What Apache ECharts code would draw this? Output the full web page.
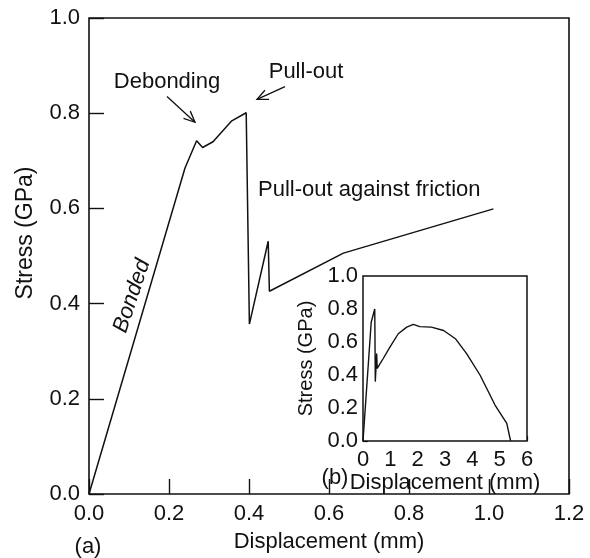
<!DOCTYPE html>
<html>
<head>
<meta charset="utf-8">
<script src="https://cdn.jsdelivr.net/npm/echarts@6/dist/echarts.min.js"></script>
<style>
html,body{margin:0;padding:0;background:#fff;}
#c{width:590px;height:558px;}
</style>
</head>
<body>
<div id="c"></div>
<script>
// ---- Data ----
// Main plot (a): displacement (mm) vs stress (GPa)
var mainX = [0.0, 0.24, 0.269, 0.284, 0.31, 0.357, 0.393, 0.401, 0.448, 0.451, 0.636, 1.011];
var mainY = [0.0, 0.685, 0.742, 0.728, 0.74, 0.784, 0.801, 0.357, 0.531, 0.426, 0.506, 0.599];
// Inset (b): full displacement range
var insetX = [0.0, 0.3, 0.43, 0.45, 0.5, 0.52, 0.74, 0.99, 1.29, 1.6, 1.84, 2.08, 2.5, 2.95, 3.38, 3.79, 4.28, 4.83, 5.26, 5.4];
var insetY = [0.0, 0.72, 0.80, 0.36, 0.53, 0.44, 0.50, 0.57, 0.65, 0.69, 0.707, 0.693, 0.69, 0.67, 0.62, 0.53, 0.40, 0.218, 0.107, 0.0];
// Tick values
var mainXTicks = [0.0, 0.2, 0.4, 0.6, 0.8, 1.0, 1.2];
var mainYTicks = [0.0, 0.2, 0.4, 0.6, 0.8, 1.0];
var insetXTicks = [0, 1, 2, 3, 4, 5, 6];
var insetYTicks = [0.0, 0.2, 0.4, 0.6, 0.8, 1.0];
// Annotation arrows (tail -> head) in main-plot data coordinates
var arrowDebonding = [[0.195, 0.835], [0.265, 0.781]];
var arrowPullout = [[0.49, 0.856], [0.42, 0.829]];

function pairs(xs, ys){ return xs.map(function(x,i){ return [x, ys[i]]; }); }

var FONT = '"Liberation Sans", Arial, Helvetica, sans-serif';
var INK = '#111';

var chart = echarts.init(document.getElementById('c'), null, {renderer:'canvas'});

var option = {
  backgroundColor: '#fff',
  animation: false,
  textStyle: {fontFamily: FONT, color: INK},
  grid: [
    {left: 89, top: 18, width: 480, height: 480, show: true, borderColor: INK, borderWidth: 1.6, backgroundColor: 'transparent'},
    {left: 363, top: 276, width: 164, height: 165, show: true, borderColor: INK, borderWidth: 1.5, backgroundColor: '#fff', z: 5}
  ],
  xAxis: [
    {
      gridIndex: 0, type: 'value',
      min: mainXTicks[0], max: mainXTicks[mainXTicks.length-1], interval: 0.2,
      name: 'Displacement (mm)', nameLocation: 'middle', nameGap: 37,
      nameTextStyle: {fontFamily: FONT, fontSize: 22, color: INK},
      axisLine: {show: false},
      axisTick: {show: true, inside: true, length: 15, lineStyle: {color: INK, width: 1.4}},
      axisLabel: {fontFamily: FONT, fontSize: 22, color: INK, margin: 9, showMinLabel: true, showMaxLabel: true,
        formatter: function(v){ return v.toFixed(1); }},
      splitLine: {show: false}
    },
    {
      gridIndex: 1, type: 'value',
      min: insetXTicks[0], max: insetXTicks[insetXTicks.length-1], interval: 1,
      name: 'Displacement (mm)', nameLocation: 'middle', nameGap: 28,
      nameTextStyle: {fontFamily: FONT, fontSize: 22, color: INK},
      axisLine: {show: false},
      axisTick: {show: true, inside: true, length: 5, lineStyle: {color: INK, width: 1.2}},
      axisLabel: {fontFamily: FONT, fontSize: 22, color: INK, margin: 8, showMinLabel: true, showMaxLabel: true},
      splitLine: {show: false}
    }
  ],
  yAxis: [
    {
      gridIndex: 0, type: 'value',
      min: mainYTicks[0], max: mainYTicks[mainYTicks.length-1], interval: 0.2,
      name: 'Stress (GPa)', nameLocation: 'middle', nameGap: 52,
      nameTextStyle: {fontFamily: FONT, fontSize: 23, color: INK, padding: [0, 0, 0, 46]},
      axisLine: {show: false},
      axisTick: {show: true, inside: true, length: 15, lineStyle: {color: INK, width: 1.4}},
      axisLabel: {fontFamily: FONT, fontSize: 22, color: INK, margin: 9, showMinLabel: true, showMaxLabel: true,
        formatter: function(v){ return v.toFixed(1); }},
      splitLine: {show: false}
    },
    {
      gridIndex: 1, type: 'value',
      min: insetYTicks[0], max: insetYTicks[insetYTicks.length-1], interval: 0.2,
      name: 'Stress (GPa)', nameLocation: 'middle', nameGap: 47,
      nameTextStyle: {fontFamily: FONT, fontSize: 20, color: INK},
      axisLine: {show: false},
      axisTick: {show: true, inside: true, length: 5, lineStyle: {color: INK, width: 1.2}},
      axisLabel: {fontFamily: FONT, fontSize: 22, color: INK, margin: 5, showMinLabel: true, showMaxLabel: true,
        formatter: function(v){ return v.toFixed(1); }},
      splitLine: {show: false}
    }
  ],
  series: [
    {type: 'line', xAxisIndex: 0, yAxisIndex: 0, data: pairs(mainX, mainY), showSymbol: false,
     lineStyle: {color: INK, width: 1.5}, z: 3},
    {type: 'line', xAxisIndex: 1, yAxisIndex: 1, data: pairs(insetX, insetY), showSymbol: false,
     lineStyle: {color: INK, width: 1.4}, z: 6}
  ]
};
chart.setOption(option);

function arrowGraphic(a){
  var t = chart.convertToPixel({gridIndex: 0}, a[0]);
  var h = chart.convertToPixel({gridIndex: 0}, a[1]);
  var dx = h[0]-t[0], dy = h[1]-t[1], L = Math.sqrt(dx*dx+dy*dy);
  var ux = dx/L, uy = dy/L, nx = -uy, ny = ux, al = 11, aw = 5;
  var w1 = [h[0]-al*ux+aw*nx, h[1]-al*uy+aw*ny];
  var w2 = [h[0]-al*ux-aw*nx, h[1]-al*uy-aw*ny];
  return [
    {type: 'line', shape: {x1: t[0], y1: t[1], x2: h[0], y2: h[1]}, style: {stroke: INK, lineWidth: 1.3}, z: 10},
    {type: 'polyline', shape: {points: [w1, h, w2]}, style: {stroke: INK, lineWidth: 1.3, fill: null}, z: 10}
  ];
}

var txt = function(text, x, y, opts){
  opts = opts || {};
  return {type: 'text', x: x, y: y, rotation: opts.rotation || 0, z: 10,
    style: {text: text, fill: INK, font: (opts.italic ? 'italic ' : '') + (opts.size || 22) + 'px ' + FONT,
      textAlign: opts.align || 'center', textVerticalAlign: 'middle'}};
};

var graphics = []
  .concat(arrowGraphic(arrowDebonding))
  .concat(arrowGraphic(arrowPullout))
  .concat([
    txt('Debonding', 167, 82),
    txt('Pull-out', 306, 72),
    txt('Pull-out against friction', 258, 190, {align: 'left'}),
    txt('Bonded', 132, 296, {rotation: 1.25, italic: true}),
    txt('(a)', 88, 547),
    txt('(b)', 335, 478)
  ]);
chart.setOption({graphic: graphics});
</script>
</body>
</html>
